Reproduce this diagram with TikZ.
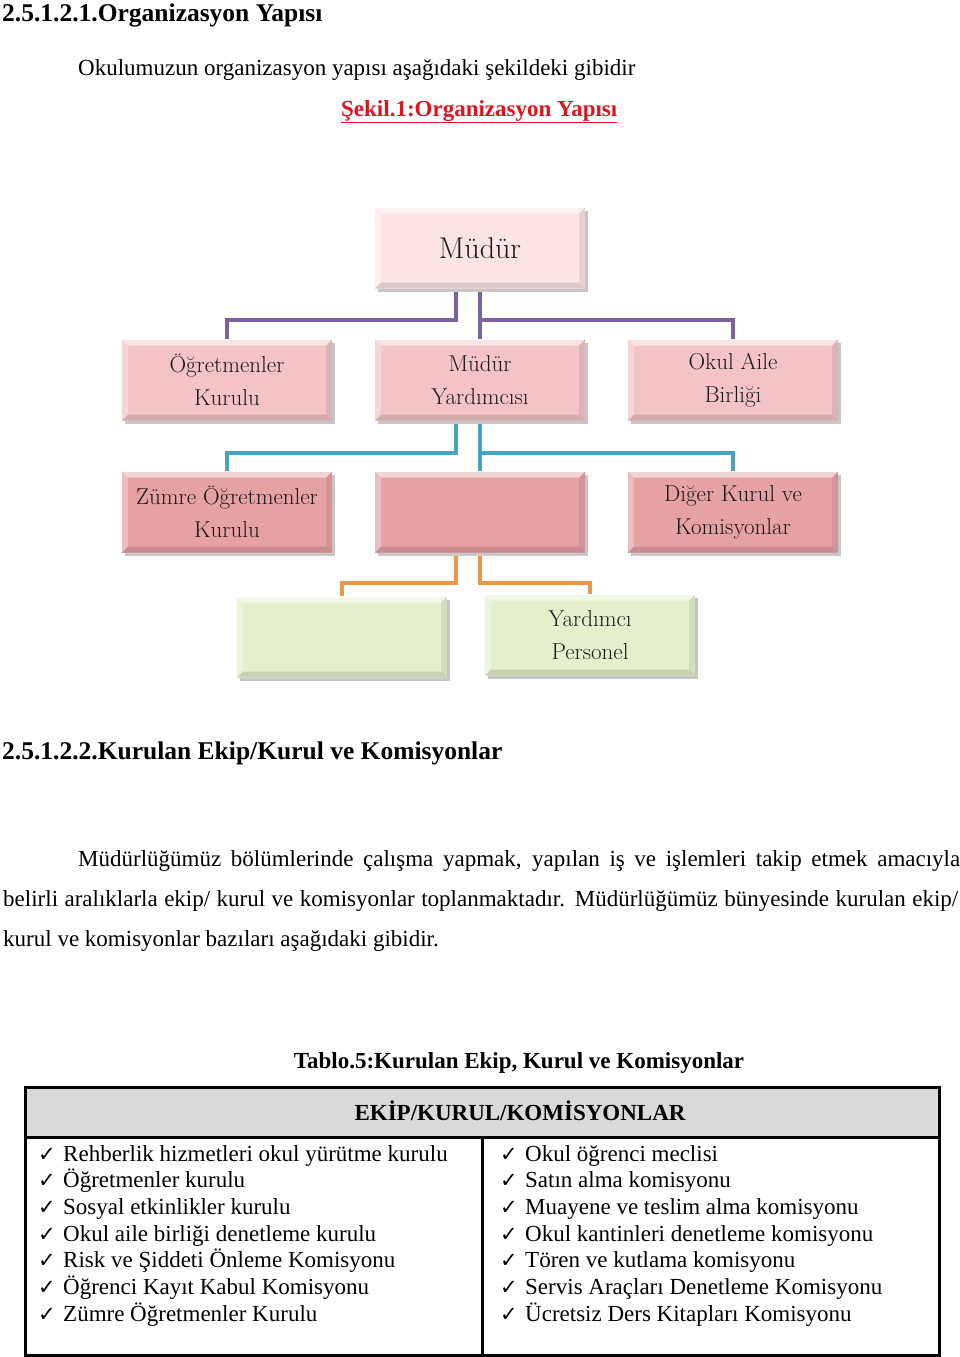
\documentclass[tikz,border=0pt]{standalone}
\usepackage{fontspec}
\newfontfamily\tnr{Liberation Serif}
\newfontfamily\sym{DejaVu Sans}
\usetikzlibrary{shadows,backgrounds}
\definecolor{cTop}{RGB}{252,228,229}
\definecolor{cRowA}{RGB}{243,195,197}
\definecolor{cRowB}{RGB}{229,161,164}
\definecolor{cGreen}{RGB}{228,240,204}
\definecolor{cPur}{RGB}{124,98,163}
\definecolor{cTeal}{RGB}{70,164,190}
\definecolor{cOra}{RGB}{240,150,74}
\definecolor{cRed}{RGB}{225,20,30}
\definecolor{cHead}{RGB}{217,217,217}
\definecolor{cBoxTxt}{RGB}{25,25,25}
\tikzset{
  bevel/.style={path picture={
    \coordinate (nw) at (path picture bounding box.north west);
    \coordinate (ne) at (path picture bounding box.north east);
    \coordinate (sw) at (path picture bounding box.south west);
    \coordinate (se) at (path picture bounding box.south east);
    \fill[white,opacity=.55] (nw) -- (ne) -- ([shift={(-6pt,-6pt)}]ne) -- ([shift={(6pt,-6pt)}]nw) -- cycle;
    \fill[white,opacity=.3] (nw) -- (sw) -- ([shift={(6pt,6pt)}]sw) -- ([shift={(6pt,-6pt)}]nw) -- cycle;
    \fill[black,opacity=.12] (sw) -- (se) -- ([shift={(-6pt,6pt)}]se) -- ([shift={(6pt,6pt)}]sw) -- cycle;
    \fill[black,opacity=.08] (ne) -- (se) -- ([shift={(-6pt,6pt)}]se) -- ([shift={(-6pt,-6pt)}]ne) -- cycle;
  }},
  obox/.style={bevel, minimum width=210pt, minimum height=81pt, inner sep=0pt,
    align=center, text=cBoxTxt, font=\fontsize{23}{33}\selectfont,
    drop shadow={shadow xshift=3pt, shadow yshift=-3pt, fill=black!22, opacity=1}},
  topbox/.style={obox, fill=cTop, font=\fontsize{30}{33}\selectfont},
  rowa/.style={obox, fill=cRowA},
  rowb/.style={obox, fill=cRowB},
  grn/.style={obox, fill=cGreen},
  link/.style={line width=4pt},
  txt/.style={inner sep=0pt, font=\tnr\fontsize{23}{27}\selectfont},
  hdg/.style={inner sep=0pt, font=\tnr\bfseries\fontsize{25.5}{28}\selectfont},
  bld/.style={inner sep=0pt, font=\tnr\bfseries\fontsize{23}{27}\selectfont},
  item/.style={inner sep=0pt, anchor=base west, font=\tnr\fontsize{23}{27}\selectfont},
}
\newcommand{\ck}{\makebox[25pt][l]{\sym\fontsize{21}{21}\selectfont ✓}}
\begin{document}
\begin{tikzpicture}[x=1pt,y=-1pt]
\useasboundingbox (0,0) rectangle (960,1357);

% headings and text
\node[hdg, anchor=base west] (h1) at (2,21) {2.5.1.2.1.Organizasyon Yapısı};
\node[txt, anchor=base west] (intro) at (78,75) {Okulumuzun organizasyon yapısı aşağıdaki şekildeki gibidir};
\node[bld, anchor=base west, text=cRed] (sekil) at (341,116) {\underline{Şekil.1:Organizasyon Yapısı}};

% org chart boxes
\node[topbox] (mudur) at (480,248) {Müdür};
\node[rowa] (ogr) at (227,380) {Öğretmenler\\Kurulu};
\node[rowa] (my) at (480,380) {Müdür\\Yardımcısı};
\node[rowa] (oab) at (733,380) {Okul Aile\\Birliği};
\node[rowb] (zumre) at (227,512) {Zümre Öğretmenler\\Kurulu};
\node[rowb] (mid) at (480,512) {};
\node[rowb] (diger) at (733,512) {Diğer Kurul ve\\Komisyonlar};
\node[grn] (g1) at (342,637) {};
\node[grn] (g2) at (590,635) {Yardımcı\\Personel};

% connectors (behind boxes)
\begin{scope}[on background layer]
\draw[link, cPur] ([xshift=-24pt]mudur.south) -- ++(0,31) -| (ogr.north);
\draw[link, cPur] (mudur.south) -- (my.north);
\draw[link, cPur] (mudur.south) -- ++(0,31) -| (oab.north);
\draw[link, cTeal] ([xshift=-24pt]my.south) -- ++(0,32) -| (zumre.north);
\draw[link, cTeal] (my.south) -- (mid.north);
\draw[link, cTeal] (my.south) -- ++(0,32) -| (diger.north);
\draw[link, cOra] ([xshift=-24pt]mid.south) -- ++(0,30) -| (g1.north);
\draw[link, cOra] (mid.south) -- ++(0,30) -| (g2.north);
\end{scope}

% second section
\node[hdg, anchor=base west] (h2) at (2,759) {2.5.1.2.2.Kurulan Ekip/Kurul ve Komisyonlar};
\node[txt, anchor=base west] (p1) at (78,866) {\makebox[882pt][s]{Müdürlüğümüz bölümlerinde çalışma yapmak, yapılan iş ve işlemleri takip etmek amacıyla}};
\node[txt, anchor=base west] (p2) at (3,906) {\makebox[955pt][s]{belirli aralıklarla ekip/ kurul ve komisyonlar toplanmaktadır. Müdürlüğümüz bünyesinde kurulan ekip/}};
\node[txt, anchor=base west] (p3) at (3,946) {kurul ve komisyonlar bazıları aşağıdaki gibidir.};

% table
\node[bld, anchor=base] (cap) at (519,1068) {Tablo.5:Kurulan Ekip, Kurul ve Komisyonlar};
\fill[cHead] (25,1087) rectangle (939,1137);
\draw[line width=3pt] (25,1087) rectangle (939,1355);
\draw[line width=3pt] (25,1137) -- (939,1137);
\draw[line width=3pt] (482,1137) -- (482,1355);
\node[bld, anchor=base] (thead) at (520,1120) {EKİP/KURUL/KOMİSYONLAR};

\foreach \t [count=\i from 0] in {Rehberlik hizmetleri okul yürütme kurulu, Öğretmenler kurulu, Sosyal etkinlikler kurulu, Okul aile birliği denetleme kurulu, Risk ve Şiddeti Önleme Komisyonu, Öğrenci Kayıt Kabul Komisyonu, Zümre Öğretmenler Kurulu}
  \node[item] (left\i) at (38,1161+26.67*\i) {\ck\t};
\foreach \t [count=\i from 0] in {Okul öğrenci meclisi, Satın alma komisyonu, Muayene ve teslim alma komisyonu, Okul kantinleri denetleme komisyonu, Tören ve kutlama komisyonu, Servis Araçları Denetleme Komisyonu, Ücretsiz Ders Kitapları Komisyonu}
  \node[item] (right\i) at (500,1161+26.67*\i) {\ck\t};
\end{tikzpicture}
\end{document}
